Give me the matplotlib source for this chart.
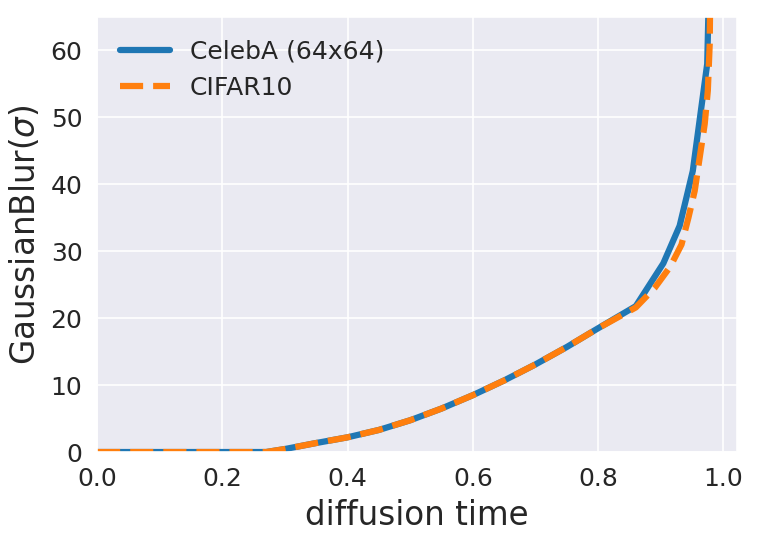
import numpy as np
import matplotlib
matplotlib.use("Agg")
import matplotlib.pyplot as plt
import seaborn as sns

sns.set_style("darkgrid")
plt.rcParams['font.family'] = ['DejaVu Sans']

# diffusion time / sigma
t_celeba = [0.0, 0.27, 0.30, 0.35, 0.40, 0.45, 0.50, 0.55, 0.60, 0.65, 0.70,
            0.75, 0.80, 0.86, 0.904, 0.93, 0.951, 0.974, 0.977]
s_celeba = [0.0, 0.0, 0.45, 1.35, 2.2, 3.3, 4.75, 6.5, 8.5, 10.7, 13.1,
            15.7, 18.5, 21.8, 28.2, 33.8, 42.0, 58.0, 70.0]

t_cifar = [0.0, 0.27, 0.30, 0.35, 0.40, 0.45, 0.50, 0.55, 0.60, 0.65, 0.70,
           0.75, 0.80, 0.86, 0.89, 0.915, 0.933, 0.944, 0.954, 0.962, 0.97,
           0.975, 0.978, 0.979]
s_cifar = [0.0, 0.0, 0.45, 1.35, 2.2, 3.3, 4.75, 6.5, 8.5, 10.7, 13.1,
           15.7, 18.5, 21.6, 24.5, 27.7, 31.0, 35.0, 39.0, 44.0, 49.0,
           54.0, 61.0, 70.0]

fig = plt.figure(figsize=(761 / 150, 542 / 150), dpi=150)
ax = fig.add_axes([0.1275, 0.166, 0.8405, 0.8026])

ax.plot(t_celeba, s_celeba, color='#1f77b4', lw=3.0, label='CelebA (64x64)')
ax.plot(t_cifar, s_cifar, color='#ff7f0e', lw=3.0, ls='--', label='CIFAR10')

ax.set_xlim(0, 1.021)
ax.set_ylim(0, 65)
ax.set_xlabel('diffusion time', fontsize=15.7)
ax.set_ylabel(r'GaussianBlur($\sigma$)', fontsize=15.7)
ax.tick_params(labelsize=12)
ax.legend(loc='upper left', fontsize=12, frameon=False)

fig.savefig('out.png', dpi=150)
